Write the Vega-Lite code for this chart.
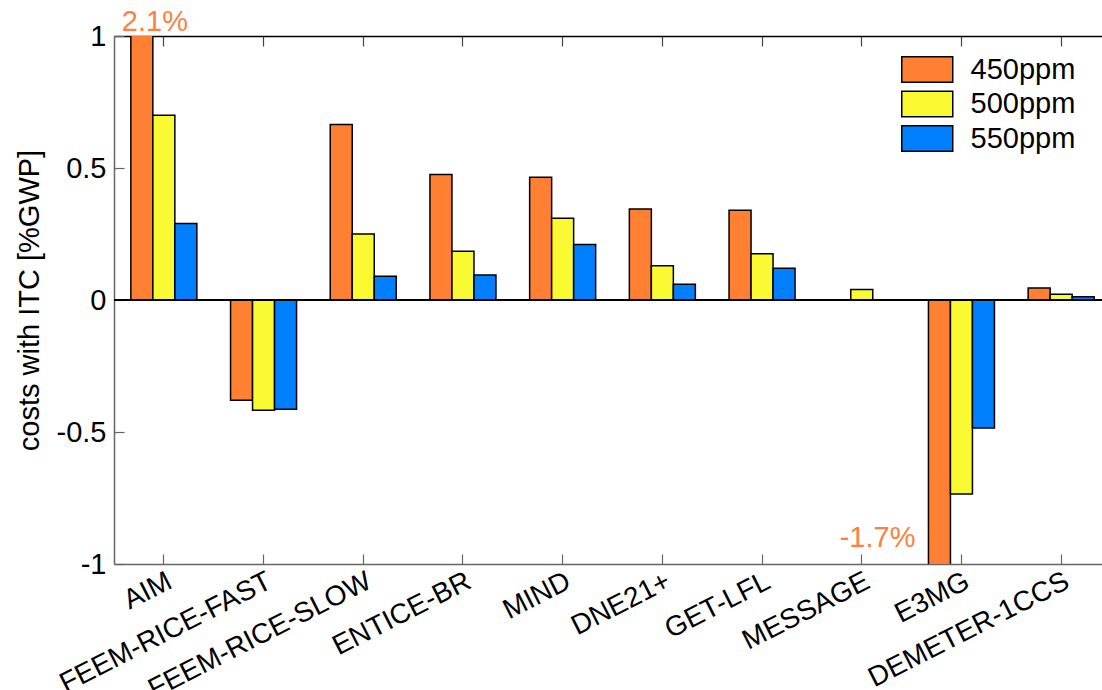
{
  "$schema": "https://vega.github.io/schema/vega-lite/v6.json",
  "autosize": {"type": "none"},
  "padding": {"left": 114, "top": 36, "right": 0, "bottom": 126},
  "width": 988,
  "height": 528,
  "background": "white",
  "config": {
    "font": "Liberation Sans",
    "view": {"stroke": null},
    "axis": {"labelFont": "Liberation Sans", "titleFont": "Liberation Sans", "labelColor": "black", "titleColor": "black", "grid": false}
  },
  "datasets": {
    "bars": [
      {"model": "AIM", "ppm": "450ppm", "value": 2.1},
      {"model": "AIM", "ppm": "500ppm", "value": 0.70},
      {"model": "AIM", "ppm": "550ppm", "value": 0.29},
      {"model": "FEEM-RICE-FAST", "ppm": "450ppm", "value": -0.38},
      {"model": "FEEM-RICE-FAST", "ppm": "500ppm", "value": -0.418},
      {"model": "FEEM-RICE-FAST", "ppm": "550ppm", "value": -0.414},
      {"model": "FEEM-RICE-SLOW", "ppm": "450ppm", "value": 0.665},
      {"model": "FEEM-RICE-SLOW", "ppm": "500ppm", "value": 0.25},
      {"model": "FEEM-RICE-SLOW", "ppm": "550ppm", "value": 0.09},
      {"model": "ENTICE-BR", "ppm": "450ppm", "value": 0.475},
      {"model": "ENTICE-BR", "ppm": "500ppm", "value": 0.185},
      {"model": "ENTICE-BR", "ppm": "550ppm", "value": 0.095},
      {"model": "MIND", "ppm": "450ppm", "value": 0.465},
      {"model": "MIND", "ppm": "500ppm", "value": 0.31},
      {"model": "MIND", "ppm": "550ppm", "value": 0.21},
      {"model": "DNE21+", "ppm": "450ppm", "value": 0.345},
      {"model": "DNE21+", "ppm": "500ppm", "value": 0.13},
      {"model": "DNE21+", "ppm": "550ppm", "value": 0.06},
      {"model": "GET-LFL", "ppm": "450ppm", "value": 0.34},
      {"model": "GET-LFL", "ppm": "500ppm", "value": 0.175},
      {"model": "GET-LFL", "ppm": "550ppm", "value": 0.12},
      {"model": "MESSAGE", "ppm": "500ppm", "value": 0.04},
      {"model": "E3MG", "ppm": "450ppm", "value": -1.7},
      {"model": "E3MG", "ppm": "500ppm", "value": -0.735},
      {"model": "E3MG", "ppm": "550ppm", "value": -0.485},
      {"model": "DEMETER-1CCS", "ppm": "450ppm", "value": 0.045},
      {"model": "DEMETER-1CCS", "ppm": "500ppm", "value": 0.022},
      {"model": "DEMETER-1CCS", "ppm": "550ppm", "value": 0.012}
    ],
    "notes": [
      {"model": "AIM", "ppm": "450ppm", "pos": 1, "label": "2.1%"}
    ],
    "notes2": [
      {"model": "E3MG", "ppm": "450ppm", "pos": -1, "label": "-1.7%"}
    ]
  },
  "resolve": {"axis": {"x": "independent"}},
  "layer": [
    {
      "data": {"name": "bars"},
      "mark": {"type": "bar", "stroke": "black", "strokeWidth": 1.5, "clip": true},
      "encoding": {
        "x": {
          "field": "model", "type": "nominal",
          "sort": ["AIM", "FEEM-RICE-FAST", "FEEM-RICE-SLOW", "ENTICE-BR", "MIND", "DNE21+", "GET-LFL", "MESSAGE", "E3MG", "DEMETER-1CCS"],
          "scale": {"domain": ["AIM", "FEEM-RICE-FAST", "FEEM-RICE-SLOW", "ENTICE-BR", "MIND", "DNE21+", "GET-LFL", "MESSAGE", "E3MG", "DEMETER-1CCS"], "range": [0, 997], "paddingInner": 0.338, "paddingOuter": 0.169},
          "axis": {
            "orient": "bottom", "title": null, "domainColor": "#666", "domainWidth": 1.5,
            "tickColor": "#666", "tickSize": -10, "tickWidth": 1.2,
            "labelAngle": -27, "labelAlign": "right", "labelBaseline": "top",
            "labelFontSize": 28, "labelPadding": 13, "labelOverlap": false, "labelBound": false, "labelFlush": false, "labelLimit": 500
          }
        },
        "xOffset": {"field": "ppm", "type": "nominal", "scale": {"domain": ["450ppm", "500ppm", "550ppm"], "paddingInner": 0, "paddingOuter": 0}},
        "y": {
          "field": "value", "type": "quantitative",
          "scale": {"domain": [-1, 1], "nice": false},
          "axis": {
            "title": "costs with ITC [%GWP]", "titleFontSize": 29, "titleFontWeight": "normal", "titlePadding": 12,
            "values": [-1, -0.5, 0, 0.5, 1], "labelExpr": "'' + datum.value",
            "labelFontSize": 29, "labelPadding": 18, "tickSize": -10, "tickColor": "#666", "tickWidth": 1.2,
            "domainColor": "#666", "domainWidth": 1.5, "labelOverlap": false
          }
        },
        "color": {
          "field": "ppm", "type": "nominal",
          "scale": {"domain": ["450ppm", "500ppm", "550ppm"], "range": ["#FF8033", "#FAFA32", "#0080FF"]},
          "legend": {
            "title": null, "orient": "none", "legendX": 798.75, "legendY": 19, "padding": 0,
            "symbolType": "M-2,-1H2V1H-2Z", "symbolSize": 650,
            "symbolStrokeColor": "black", "symbolStrokeWidth": 1.5, "symbolOpacity": 1,
            "labelFontSize": 29, "labelOffset": 28.75, "rowPadding": 1.5, "labelColor": "black"
          }
        }
      }
    },
    {
      "data": {"name": "bars"},
      "mark": {"type": "rule", "color": "black", "strokeWidth": 1.5},
      "encoding": {"y": {"datum": 0, "type": "quantitative", "scale": {"domain": [-1, 1], "nice": false}}}
    },
    {
      "data": {"name": "notes"},
      "mark": {"type": "text", "color": "#FF8040", "fontSize": 29, "align": "left", "baseline": "alphabetic", "dx": -20, "dy": -5},
      "encoding": {
        "x": {
          "field": "model", "type": "nominal",
          "sort": ["AIM", "FEEM-RICE-FAST", "FEEM-RICE-SLOW", "ENTICE-BR", "MIND", "DNE21+", "GET-LFL", "MESSAGE", "E3MG", "DEMETER-1CCS"],
          "axis": {
            "orient": "top", "title": null, "labels": false, "domainColor": "black", "domainWidth": 1.5,
            "tickColor": "#444", "tickSize": -10, "tickWidth": 1.2
          }
        },
        "xOffset": {"field": "ppm", "type": "nominal"},
        "y": {"field": "pos", "type": "quantitative", "scale": {"domain": [-1, 1], "nice": false}},
        "text": {"field": "label"}
      }
    },
    {
      "data": {"name": "notes2"},
      "mark": {"type": "text", "color": "#FF8040", "fontSize": 29, "align": "right", "baseline": "alphabetic", "dx": -24, "dy": -17},
      "encoding": {
        "x": {
          "field": "model", "type": "nominal",
          "sort": ["AIM", "FEEM-RICE-FAST", "FEEM-RICE-SLOW", "ENTICE-BR", "MIND", "DNE21+", "GET-LFL", "MESSAGE", "E3MG", "DEMETER-1CCS"],
          "axis": null
        },
        "xOffset": {"field": "ppm", "type": "nominal"},
        "y": {"field": "pos", "type": "quantitative", "scale": {"domain": [-1, 1], "nice": false}},
        "text": {"field": "label"}
      }
    }
  ]
}
